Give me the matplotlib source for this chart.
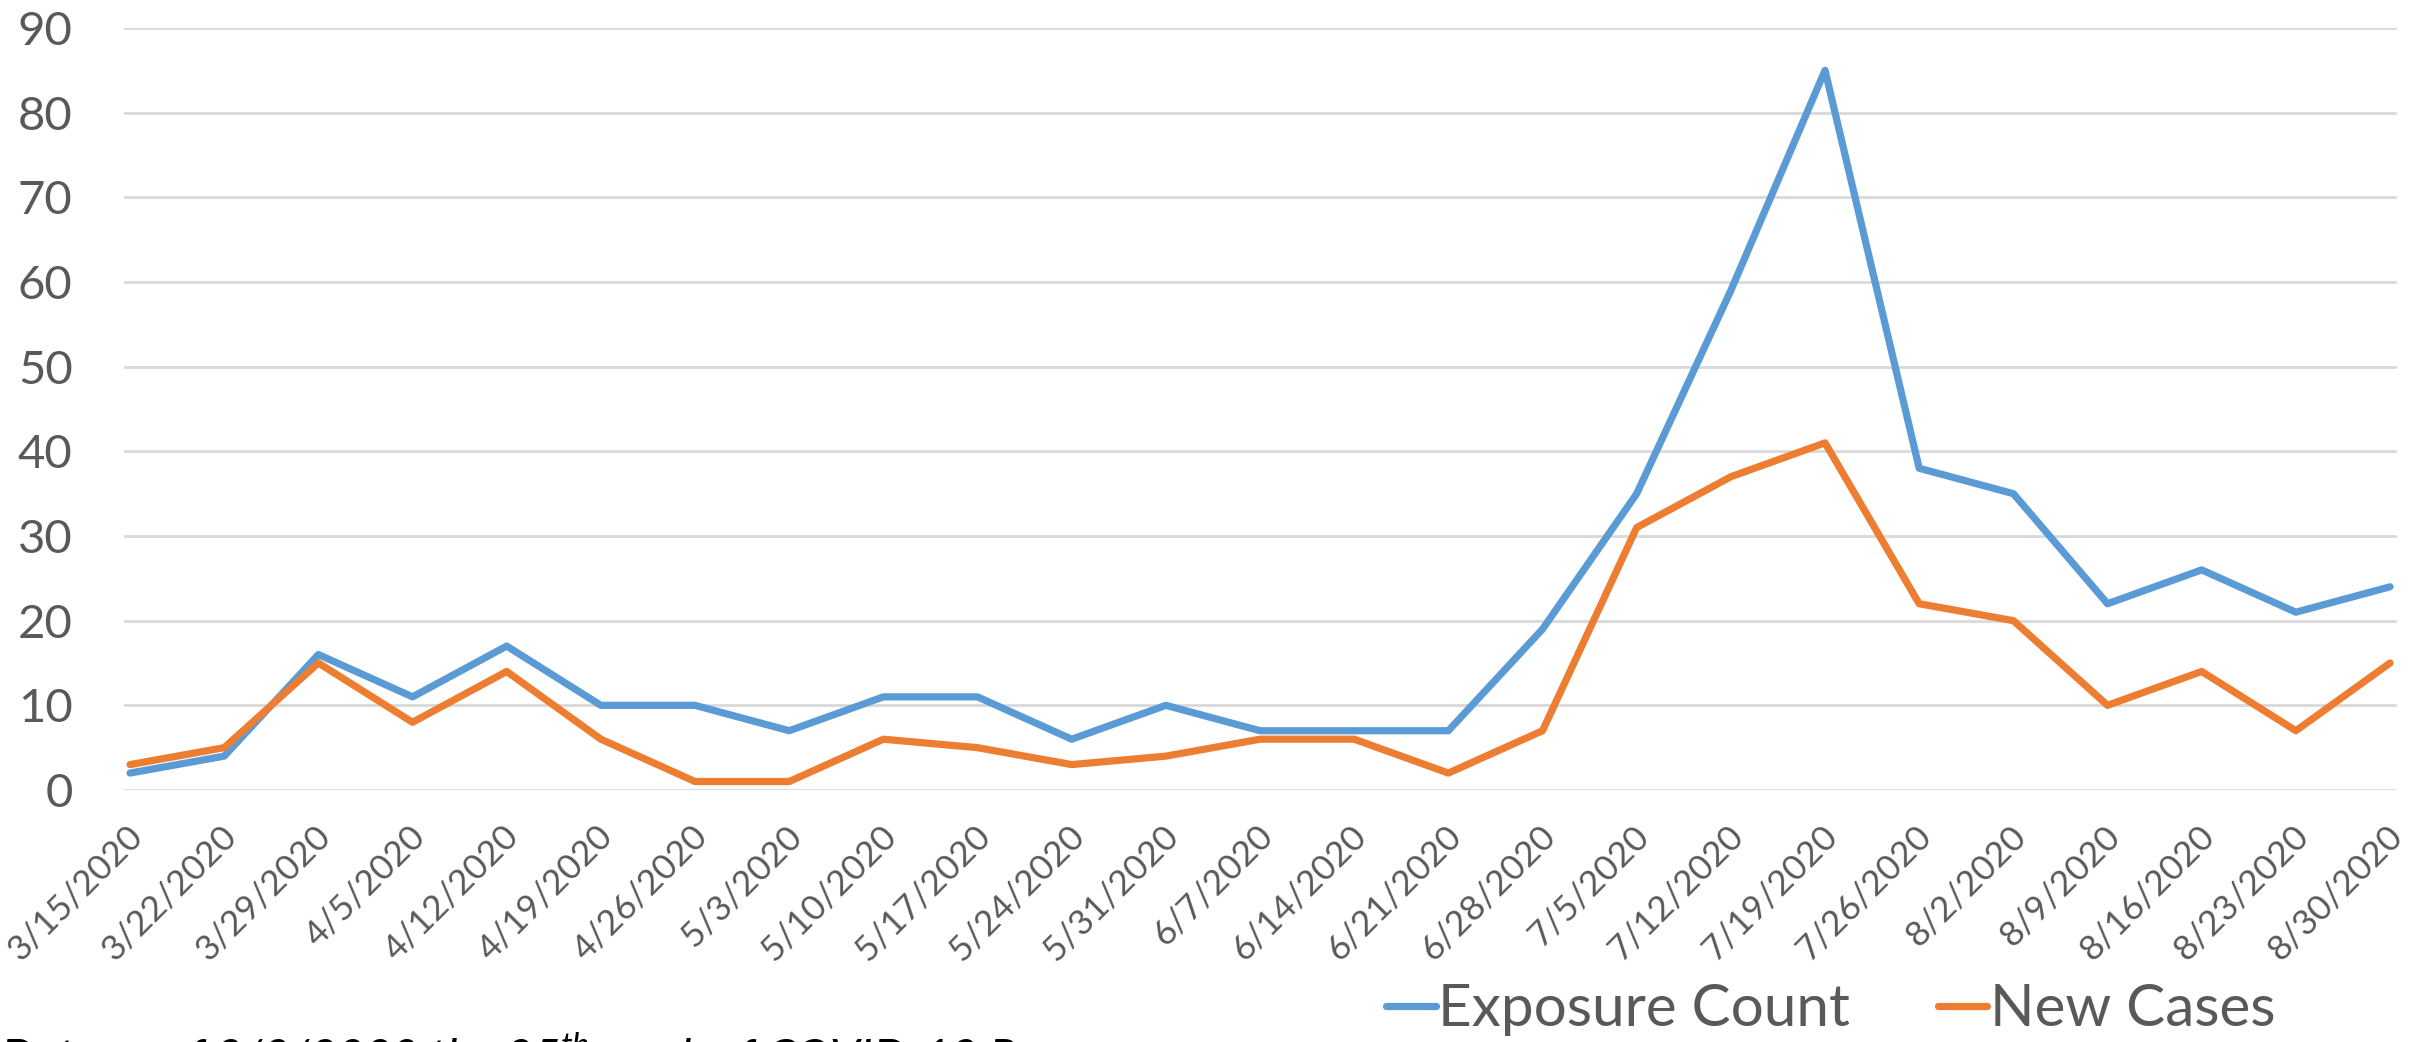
import matplotlib
matplotlib.use("Agg")
import matplotlib.pyplot as plt
import matplotlib.transforms as mtrans

plt.rcParams['font.family'] = ['Lato', 'DejaVu Sans']
plt.rcParams['mathtext.fontset'] = 'custom'
plt.rcParams['mathtext.rm'] = 'Lato'
plt.rcParams['mathtext.it'] = 'Lato:italic'

# weekly data
weeks = ['3/15/2020', '3/22/2020', '3/29/2020', '4/5/2020', '4/12/2020', '4/19/2020',
         '4/26/2020', '5/3/2020', '5/10/2020', '5/17/2020', '5/24/2020', '5/31/2020',
         '6/7/2020', '6/14/2020', '6/21/2020', '6/28/2020', '7/5/2020', '7/12/2020',
         '7/19/2020', '7/26/2020', '8/2/2020', '8/9/2020', '8/16/2020', '8/23/2020',
         '8/30/2020']
exposure = [2, 4, 16, 11, 17, 10, 10, 7, 11, 11, 6, 10, 7, 7, 7, 19, 35, 59, 85, 38, 35, 22, 26, 21, 24]
new_cases = [3, 5, 15, 8, 14, 6, 1, 1, 6, 5, 3, 4, 6, 6, 2, 7, 31, 37, 41, 22, 20, 10, 14, 7, 15]
yticks = list(range(0, 100, 10))

BLUE = '#5B9BD5'
ORANGE = '#ED7D31'
GREY = '#595959'

fig = plt.figure(figsize=(24.2, 10.42), dpi=100)
ax = fig.add_axes([124 / 2420, 1 - 790 / 1042, (2397 - 124) / 2420, (790 - 28) / 1042])

x = list(range(len(weeks)))
ax.plot(x, exposure, color=BLUE, lw=5.2, label='Exposure Count', solid_joinstyle='round',
        solid_capstyle='round')
ax.plot(x, new_cases, color=ORANGE, lw=5.2, label='New Cases', solid_joinstyle='round',
        solid_capstyle='round')

ax.set_ylim(0, 90)
ax.set_xlim(-0.064, 24.074)
ax.set_yticks(yticks)
ax.grid(axis='y', color='#D9D9D9', lw=2)
ax.set_axisbelow(True)
for s in ax.spines.values():
    s.set_visible(False)

ax.tick_params(axis='y', length=0, pad=37, labelsize=34, labelcolor=GREY)
ax.tick_params(axis='x', length=0, pad=0, labelsize=25.5, labelcolor=GREY)
ax.set_xticks(x)
ax.set_xticklabels(weeks, rotation=45, ha='right', va='center', rotation_mode='anchor')
off = mtrans.ScaledTranslation(7 / 100, -41 / 100, fig.dpi_scale_trans)
for lab in ax.get_xticklabels():
    lab.set_transform(lab.get_transform() + off)

fig.legend(loc='center left', bbox_to_anchor=(1386 / 2420, 1 - 1010 / 1042), ncol=2,
           frameon=False, fontsize=42, labelcolor=GREY, handlelength=0.85,
           handletextpad=0.05, columnspacing=1.5, borderpad=0, borderaxespad=0)

fig.text(0.0, 1 - 1030 / 1042, 'Data as of 9/2/2020 the 25$^{th}$ week of COVID-19 Response',
         fontsize=34, style='italic', color='black', ha='left', va='top')

fig.savefig('out.png', dpi=100)
